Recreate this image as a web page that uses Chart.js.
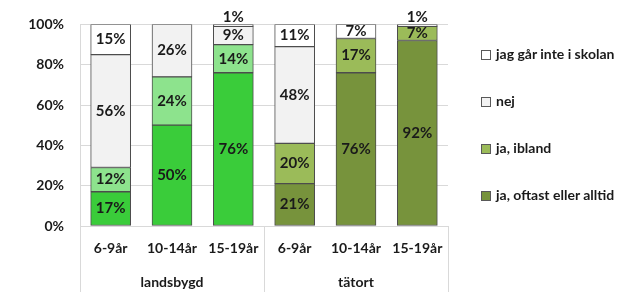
<!DOCTYPE html>
<html>
<head>
<meta charset="utf-8">
<script src="https://cdn.jsdelivr.net/npm/chart.js@4"></script>
<style>
  body { margin: 0; background: #fff; }
  #wrap { position: relative; width: 638px; height: 292px; }
  #legend { position: absolute; left: 481px; top: 45px; font: bold 14px Lato, sans-serif; color: #1a1a1a; }
  #legend div { height: 47px; display: flex; align-items: flex-start; white-space: nowrap; }
  #legend span.box { width: 8px; height: 8px; border: 1px solid #595959; margin: 5px 5px 0 0; flex: none; }
</style>
</head>
<body>
<div id="wrap">
  <canvas id="chart" width="638" height="292"></canvas>
  <div id="legend"></div>
</div>
<script>
// kategorier och grupper
const CATEGORIES = ['6-9år', '10-14år', '15-19år', '6-9år', '10-14år', '15-19år'];
const GROUPS = ['landsbygd', 'tätort'];
const Y_TICKS = [0, 20, 40, 60, 80, 100];

// andelar i procent
const OFTAST = [17, 50, 76, 21, 76, 92];
const IBLAND = [12, 24, 14, 20, 17, 7];
const NEJ = [56, 26, 9, 48, 0, 0];
const INTE = [15, 0, 1, 11, 7, 1];

const SERIES_NAMES = ['ja, oftast eller alltid', 'ja, ibland', 'nej', 'jag går inte i skolan'];

// färger: landsbygd = grönt, tätort = oliv
const isRural = i => i < 3;
const COL_OFTAST = CATEGORIES.map((c, i) => isRural(i) ? '#3acc3a' : '#77933c');
const COL_IBLAND = CATEGORIES.map((c, i) => isRural(i) ? '#8de38d' : '#9bbb59');
const LEGEND_COLORS = ['#77933c', '#9bbb59', '#f2f2f2', '#ffffff'];

const FONT = 'Lato, sans-serif';
const TEXT = '#1a1a1a';

// procentetiketter i staplarna
const barLabels = {
  id: 'barLabels',
  afterDatasetsDraw(chart) {
    const ctx = chart.ctx;
    ctx.save();
    ctx.font = 'bold 15px ' + FONT;
    ctx.fillStyle = TEXT;
    ctx.textAlign = 'center';
    ctx.textBaseline = 'middle';
    chart.data.datasets.forEach((ds, di) => {
      chart.getDatasetMeta(di).data.forEach((el, i) => {
        const v = ds.data[i];
        if (!v) return;
        const y = v < 4 ? el.y - 7 : (el.y + el.base) / 2;
        ctx.fillText(v + '%', el.x, y);
      });
    });
    ctx.restore();
  }
};

// skiljelinjer i kategoriaxeln
const groupLines = {
  id: 'groupLines',
  afterDraw(chart) {
    const x = chart.scales.x;
    const a = chart.chartArea;
    const xs = [a.left, (x.getPixelForValue(2) + x.getPixelForValue(3)) / 2, a.right];
    const ctx = chart.ctx;
    ctx.save();
    ctx.strokeStyle = '#d9d9d9';
    ctx.lineWidth = 1;
    xs.forEach(px => {
      px = Math.round(px) + 0.5;
      ctx.beginPath();
      ctx.moveTo(px, a.bottom);
      ctx.lineTo(px, chart.height);
      ctx.stroke();
    });
    ctx.restore();
  }
};

const ds = (label, data, color) => ({
  label, data,
  backgroundColor: color,
  borderColor: '#4d4d4d',
  borderWidth: 1,
  borderSkipped: false,
  barThickness: 40
});

new Chart(document.getElementById('chart'), {
  type: 'bar',
  data: {
    labels: CATEGORIES,
    datasets: [
      ds(SERIES_NAMES[0], OFTAST, COL_OFTAST),
      ds(SERIES_NAMES[1], IBLAND, COL_IBLAND),
      ds(SERIES_NAMES[2], NEJ, '#f2f2f2'),
      ds(SERIES_NAMES[3], INTE, '#ffffff')
    ]
  },
  options: {
    responsive: false,
    animation: false,
    layout: { padding: { top: 18, right: 190, bottom: 0, left: 0 } },
    plugins: { legend: { display: false }, tooltip: { enabled: false } },
    scales: {
      x: {
        stacked: true,
        grid: { display: false },
        border: { display: true, color: '#d9d9d9' },
        ticks: { font: { family: FONT, size: 14, weight: 'bold' }, color: TEXT, padding: 6, maxRotation: 0, autoSkip: false },
        afterFit: s => { s.height = 36; }
      },
      x2: {
        type: 'category',
        labels: GROUPS,
        position: 'bottom',
        offset: true,
        grid: { display: false },
        border: { display: false },
        ticks: { font: { family: FONT, size: 14, weight: 'bold' }, color: TEXT, padding: 4 },
        afterFit: s => { s.height = 30; }
      },
      y: {
        stacked: true,
        min: 0,
        max: 100,
        afterBuildTicks: s => { s.ticks = Y_TICKS.map(v => ({ value: v })); },
        grid: { color: '#d9d9d9', drawTicks: false },
        border: { display: true, color: '#d9d9d9' },
        ticks: { font: { family: FONT, size: 14, weight: 'bold' }, color: TEXT, padding: 16, callback: v => v + '%' },
        afterFit: s => { s.width = 80; }
      }
    }
  },
  plugins: [barLabels, groupLines]
});

// förklaring, omvänd ordning
const legend = document.getElementById('legend');
SERIES_NAMES.map((n, i) => [n, LEGEND_COLORS[i]]).reverse().forEach(([name, color]) => {
  const row = document.createElement('div');
  row.innerHTML = '<span class="box" style="background:' + color + '"></span>' + name;
  legend.appendChild(row);
});
</script>
</body>
</html>
